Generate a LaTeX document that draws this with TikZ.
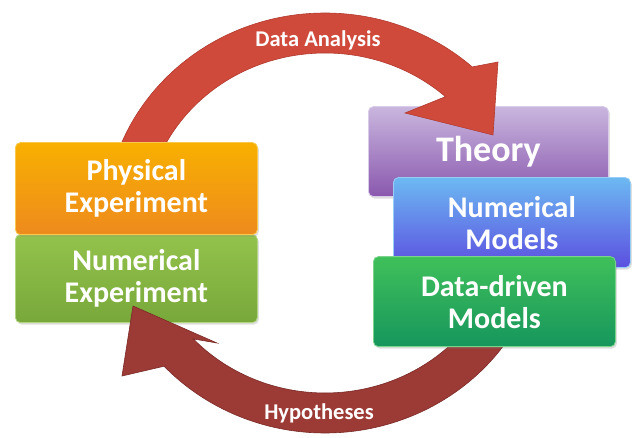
\documentclass[tikz,border=0pt]{standalone}
\usepackage{fontspec}
\setmainfont{Carlito}
\usetikzlibrary{calc,shadows}
\definecolor{orTop}{HTML}{F8B000}
\definecolor{orBot}{HTML}{EE8A1E}
\definecolor{olTop}{HTML}{93C24C}
\definecolor{olBot}{HTML}{78A83A}
\definecolor{puTop}{HTML}{C9B6DE}
\definecolor{puBot}{HTML}{8A58AE}
\definecolor{blTop}{HTML}{6CB9F2}
\definecolor{blBot}{HTML}{5C4FE0}
\definecolor{grTop}{HTML}{40C05A}
\definecolor{grBot}{HTML}{16965C}
\definecolor{redA}{HTML}{D04A3C}
\definecolor{redAe}{HTML}{B03A2E}
\definecolor{redB}{HTML}{9C3A36}
\definecolor{redBe}{HTML}{7A2A27}
\begin{document}
\begin{tikzpicture}[x=1pt,y=1pt,
  box/.style={rounded corners=5pt, line width=0.8pt, text=white, align=center,
    anchor=south west, inner sep=0pt,
    font=\bfseries\fontsize{30}{32}\selectfont,
    drop shadow={opacity=0.25, shadow xshift=1.5pt, shadow yshift=-2pt}},
  lbl/.style={text=white, font=\bfseries\fontsize{22.5}{24}\selectfont}]
\useasboundingbox (0,0) rectangle (634,437);
\coordinate (c) at (325,214);
% back boxes
\node[box, top color=puTop, bottom color=puBot, draw=puTop!70!white,
  minimum width=240pt, minimum height=90pt,
  font=\bfseries\fontsize{36}{40}\selectfont] (theory) at (368,240) {Theory};
\node[box, top color=olTop, bottom color=olBot, draw=olTop!70!white,
  minimum width=242pt, minimum height=88pt] (numexp) at (15,114) {Numerical\\Experiment};
% top arrow
\fill[redA, draw=redAe, line width=0.6pt]
  ($(c)+(180:220 and 210)$) arc[start angle=180, end angle=48, x radius=220, y radius=210]
  -- (498,375) -- (493,302) -- (405,324)
  -- ($(c)+(48:180 and 170)$) arc[start angle=48, end angle=180, x radius=180, y radius=170]
  -- cycle;
% bottom arrow
\fill[redB, draw=redBe, line width=0.6pt]
  ($(c)+(-30:220 and 210)$) arc[start angle=-30, end angle=-137, x radius=220, y radius=210]
  -- (122,61) -- (133,131) -- (217,94)
  -- ($(c)+(-137:180 and 170)$) arc[start angle=-137, end angle=-30, x radius=180, y radius=170]
  -- cycle;
\node[lbl] (da) at (318,397) {Data Analysis};
\node[lbl] (hy) at (319,24) {Hypotheses};
% front boxes
\node[box, top color=orTop, bottom color=orBot, draw=orTop!70!white,
  minimum width=242pt, minimum height=92pt] (phys) at (15,202) {Physical\\Experiment};
\node[box, top color=blTop, bottom color=blBot, draw=blTop!70!white,
  minimum width=237pt, minimum height=90pt] (nummod) at (393,169) {Numerical\\Models};
\node[box, top color=grTop, bottom color=grBot, draw=grTop!70!white,
  minimum width=242pt, minimum height=90pt] (data) at (373,90) {Data-driven\\Models};
\end{tikzpicture}
\end{document}
